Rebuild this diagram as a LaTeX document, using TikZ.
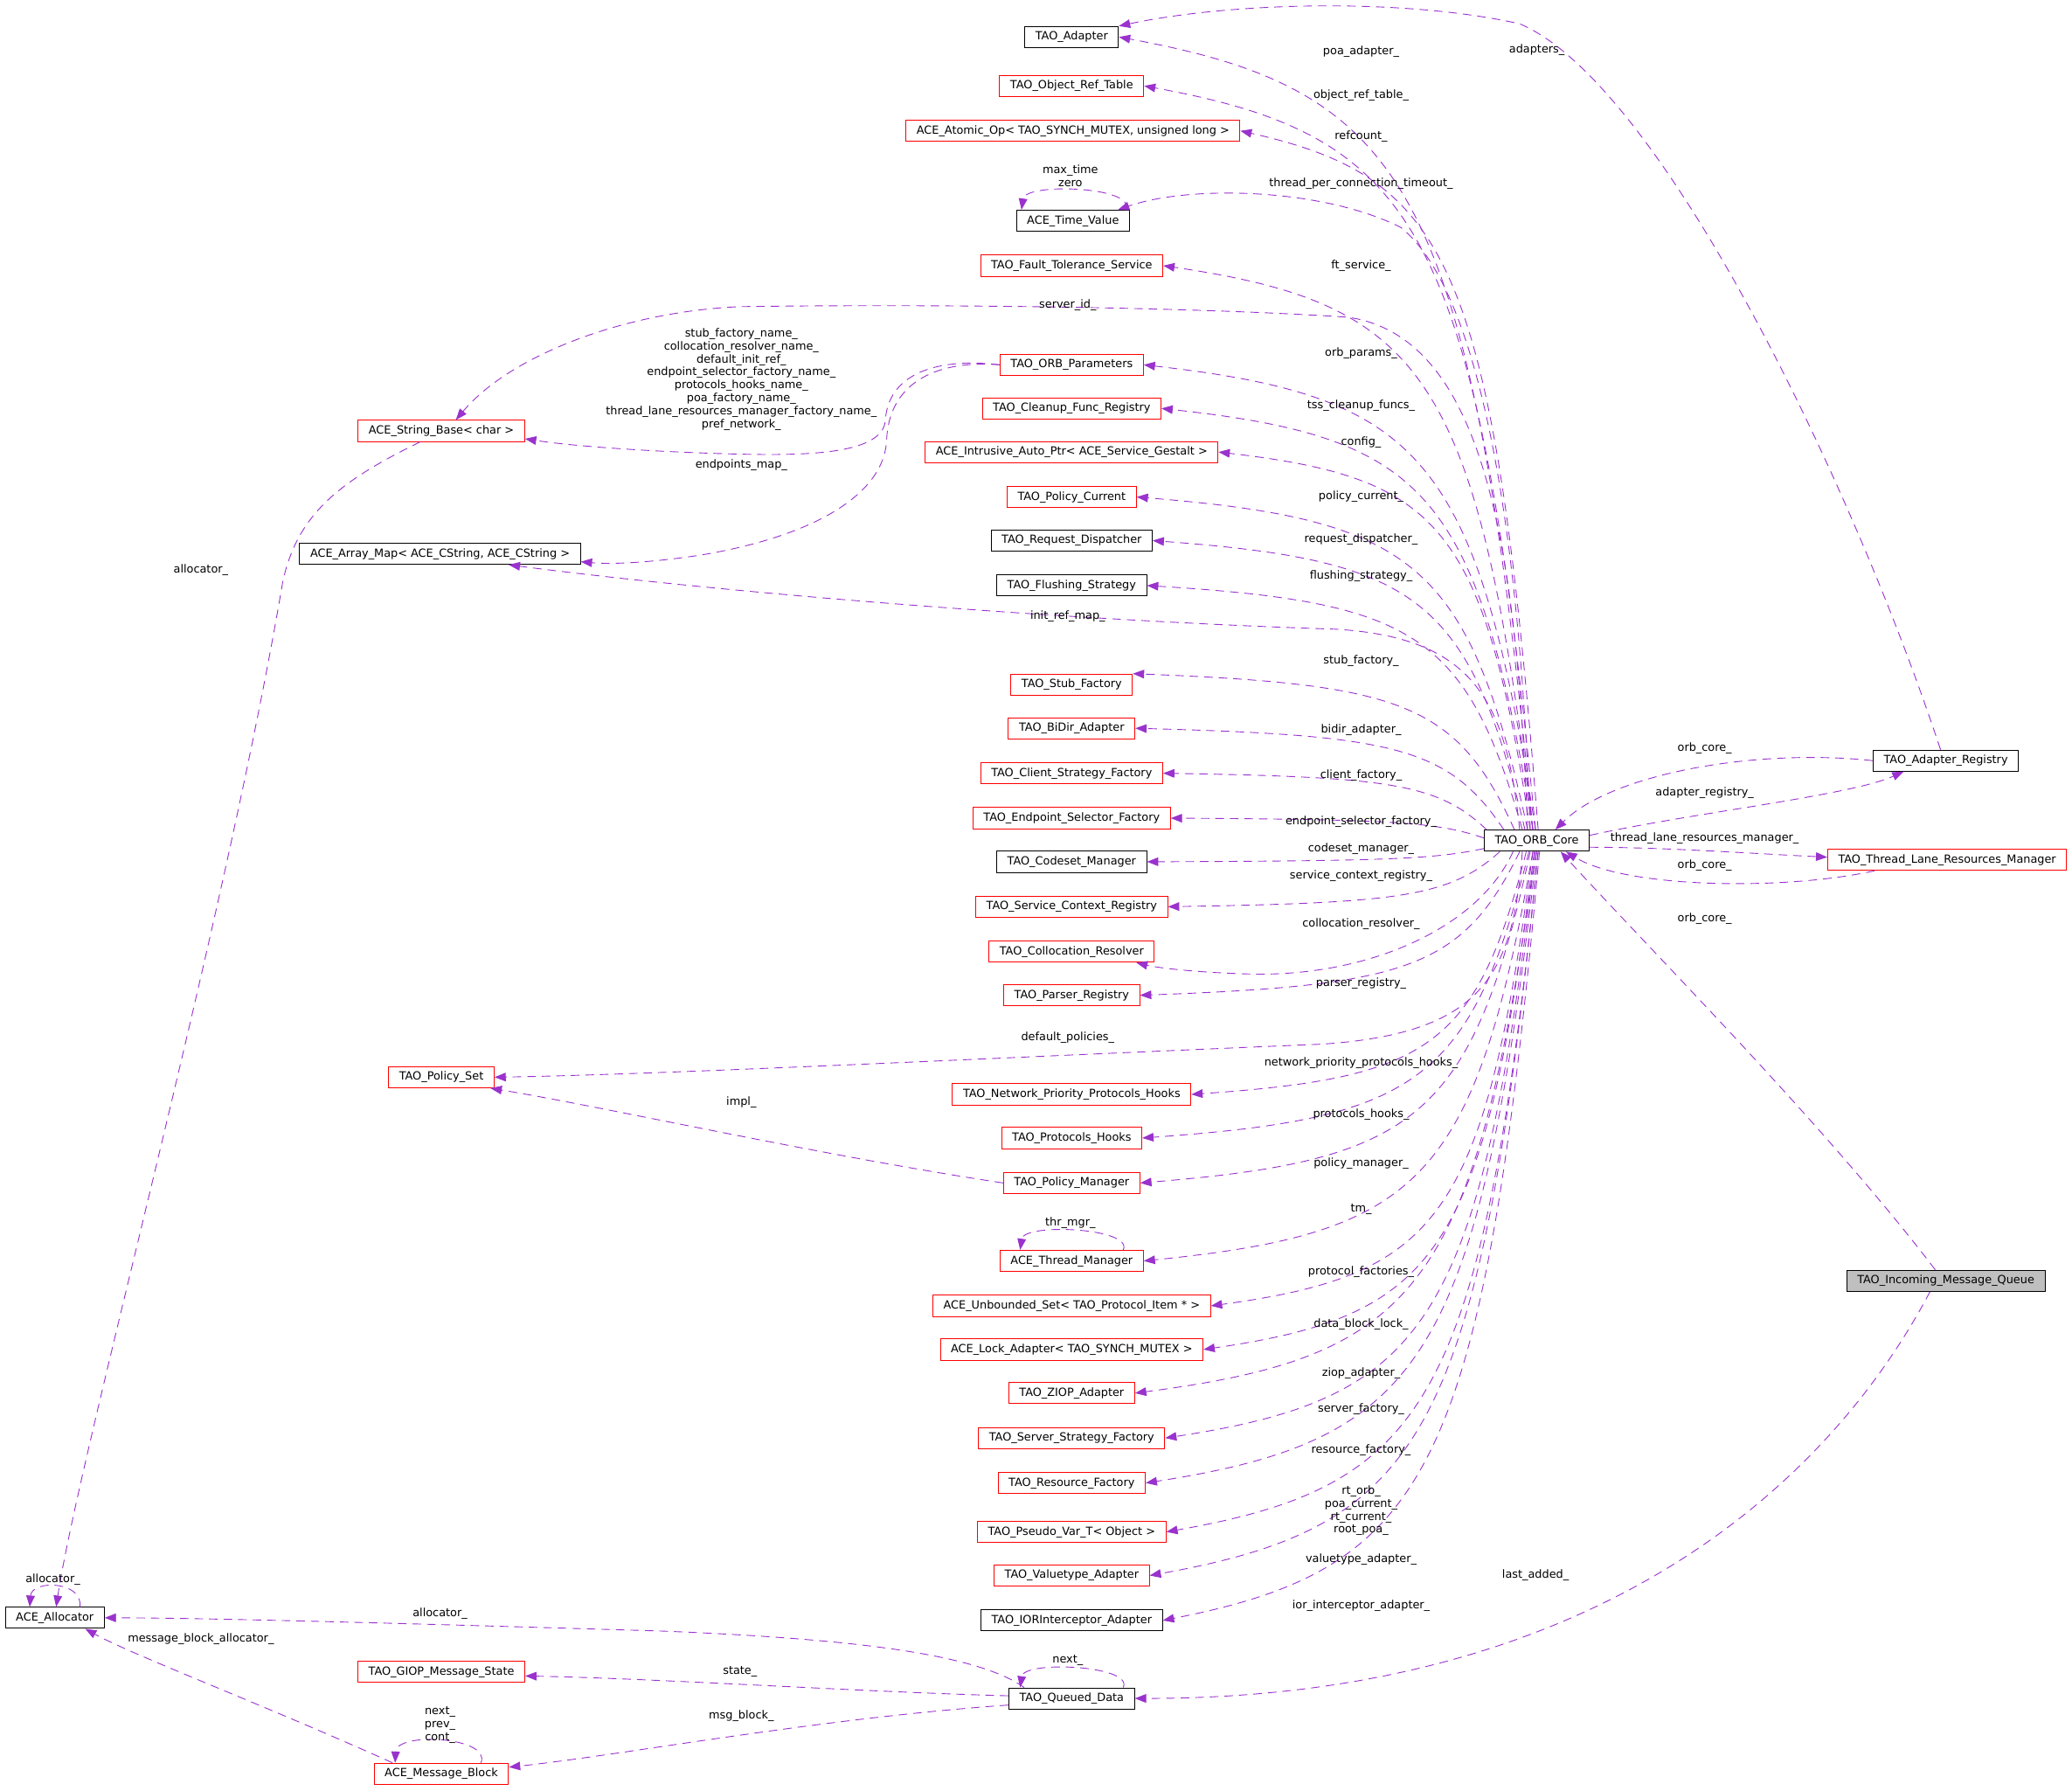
\documentclass[tikz,border=0pt]{standalone}
\usepackage{fontspec}
\setmainfont{DejaVu Sans}
\usetikzlibrary{arrows.meta,calc}
\definecolor{edgec}{HTML}{9A32CD}
\definecolor{grayfill}{HTML}{BFBFBF}
\newcommand{\coreEdge}[2]{\draw[dep] let \p1=(#1), \p2=(#2), \p3=({(\x1)-0.17*((\x1)-(\x2))},{(\y2)-0.08*((\y2)-(\y1))}) in (\p1) .. controls ({(\x1)+0.88*((\x3)-(\x1))},{(\y1)+0.88*((\y3)-(\y1))}) and ({(\x2)+0.85*((\x3)-(\x2))},{(\y2)+0.85*((\y3)-(\y2))}) .. (\p2);}
\tikzset{
  every node/.style={font=\fontsize{8.5}{9.8}\selectfont},
  cls/.style={draw=black, line width=0.65pt, inner xsep=8pt, inner ysep=0pt, minimum height=16pt, text height=6.4pt, text depth=1.8pt},
  rcls/.style={cls, draw=red},
  gcls/.style={cls, fill=grayfill},
  lbl/.style={inner sep=0pt, align=center},
  dep/.style={draw=edgec, line width=0.6pt, dash pattern=on 6.5pt off 4.5pt, -{Triangle[length=8.5pt,width=6.5pt,fill=edgec]}}
}
\begin{document}
\begin{tikzpicture}[x=1pt,y=1pt]
\useasboundingbox (0,0) rectangle (1568,-1355);
% ---------- nodes: member column ----------
\node[cls]  (adapter)   at (811,-28)  {TAO\_Adapter};
\node[rcls] (objref)    at (811,-65)  {TAO\_Object\_Ref\_Table};
\node[rcls] (atomic)    at (812,-99)  {ACE\_Atomic\_Op< TAO\_SYNCH\_MUTEX, unsigned long >};
\node[cls]  (timevalue) at (812,-167) {ACE\_Time\_Value};
\node[rcls] (fts)       at (811,-201) {TAO\_Fault\_Tolerance\_Service};
\node[rcls] (orbparams) at (811,-276) {TAO\_ORB\_Parameters};
\node[rcls] (cleanup)   at (811,-309) {TAO\_Cleanup\_Func\_Registry};
\node[rcls] (intrusive) at (811,-342) {ACE\_Intrusive\_Auto\_Ptr< ACE\_Service\_Gestalt >};
\node[rcls] (polcur)    at (811,-376) {TAO\_Policy\_Current};
\node[cls]  (reqdisp)   at (811,-409) {TAO\_Request\_Dispatcher};
\node[cls]  (flush)     at (811,-443) {TAO\_Flushing\_Strategy};
\node[rcls] (stub)      at (811,-518) {TAO\_Stub\_Factory};
\node[rcls] (bidir)     at (811,-551) {TAO\_BiDir\_Adapter};
\node[rcls] (clientsf)  at (811,-585) {TAO\_Client\_Strategy\_Factory};
\node[rcls] (endpoint)  at (811,-619) {TAO\_Endpoint\_Selector\_Factory};
\node[cls]  (codeset)   at (811,-652) {TAO\_Codeset\_Manager};
\node[rcls] (svcctx)    at (811,-686) {TAO\_Service\_Context\_Registry};
\node[rcls] (colloc)    at (811,-720) {TAO\_Collocation\_Resolver};
\node[rcls] (parser)    at (811,-753) {TAO\_Parser\_Registry};
\node[rcls] (netprio)   at (811,-828) {TAO\_Network\_Priority\_Protocols\_Hooks};
\node[rcls] (prothooks) at (811,-861) {TAO\_Protocols\_Hooks};
\node[rcls] (polmgr)    at (811,-895) {TAO\_Policy\_Manager};
\node[rcls] (thrmgr)    at (811,-954) {ACE\_Thread\_Manager};
\node[rcls] (unbounded) at (811,-988) {ACE\_Unbounded\_Set< TAO\_Protocol\_Item * >};
\node[rcls] (lockad)    at (811,-1021) {ACE\_Lock\_Adapter< TAO\_SYNCH\_MUTEX >};
\node[rcls] (ziop)      at (811,-1054) {TAO\_ZIOP\_Adapter};
\node[rcls] (serversf)  at (811,-1088) {TAO\_Server\_Strategy\_Factory};
\node[rcls] (resfact)   at (811,-1122) {TAO\_Resource\_Factory};
\node[rcls] (pseudo)    at (811,-1159) {TAO\_Pseudo\_Var\_T< Object >};
\node[rcls] (valuetype) at (811,-1192) {TAO\_Valuetype\_Adapter};
\node[cls]  (iorint)    at (811,-1226) {TAO\_IORInterceptor\_Adapter};
\node[cls]  (queued)    at (811,-1285) {TAO\_Queued\_Data};
% ---------- left ----------
\node[rcls] (stringbase) at (334,-326)  {ACE\_String\_Base< char >};
\node[cls]  (arraymap)   at (333,-419)  {ACE\_Array\_Map< ACE\_CString, ACE\_CString >};
\node[rcls] (policyset)  at (334,-815)  {TAO\_Policy\_Set};
\node[cls]  (allocator)  at (41.5,-1224) {ACE\_Allocator};
\node[rcls] (giop)       at (334,-1265) {TAO\_GIOP\_Message\_State};
\node[rcls] (msgblock)   at (334,-1342) {ACE\_Message\_Block};
% ---------- right ----------
\node[cls]  (core)     at (1163,-636)    {TAO\_ORB\_Core};
\node[cls]  (registry) at (1472.5,-575.5) {TAO\_Adapter\_Registry};
\node[rcls] (tlrm)     at (1473.5,-650.5) {TAO\_Thread\_Lane\_Resources\_Manager};
\node[gcls] (imq)      at (1472.5,-969)  {TAO\_Incoming\_Message\_Queue};

% ---------- ORB_Core edges ----------
\coreEdge{[xshift=-3pt]core.north}{adapter.east}
\coreEdge{[xshift=-1pt]core.north}{objref.east}
\coreEdge{[xshift=1pt]core.north}{atomic.east}
\draw[dep] ([xshift=-5pt]core.north) .. controls (1150,-400) and (1120,-220) .. (1060,-172) .. controls (1000,-142) and (900,-140) .. ([xshift=-9pt]timevalue.north east);
\coreEdge{[xshift=-3pt]core.north}{fts.east}
\draw[dep] ([xshift=-7pt]core.north) .. controls (1148,-420) and (1125,-255) .. (1020,-240) .. controls (900,-232) and (700,-230) .. (560,-232) .. controls (470,-236) and (385,-270) .. ([xshift=11pt]stringbase.north);
\coreEdge{[xshift=-1pt]core.north}{orbparams.east}
\coreEdge{[xshift=-3pt]core.north}{cleanup.east}
\coreEdge{[xshift=-5pt]core.north}{intrusive.east}
\coreEdge{[xshift=-7pt]core.north}{polcur.east}
\coreEdge{[xshift=-9pt]core.north}{reqdisp.east}
\coreEdge{[xshift=-11pt]core.north}{flush.east}
\draw[dep] ([xshift=-13pt]core.north) .. controls (1140,-530) and (1115,-482) .. (1010,-476) .. controls (820,-470) and (560,-450) .. ([xshift=52pt]arraymap.south);
\coreEdge{[xshift=-17pt]core.north}{stub.north east}
\coreEdge{[xshift=-25pt]core.north}{bidir.east}
\coreEdge{[xshift=2pt]core.north west}{clientsf.east}
\coreEdge{[yshift=2pt]core.west}{endpoint.east}
\coreEdge{[yshift=-6pt]core.west}{codeset.east}
\coreEdge{[xshift=-28pt]core.south}{svcctx.east}
\draw[dep] ([xshift=-18pt]core.south) .. controls (1120,-700) and (1040,-738) .. (950,-737) .. controls (905,-736) and (875,-732) .. ([xshift=-14pt]colloc.south east);
\coreEdge{[xshift=-13pt]core.south}{parser.east}
\draw[dep] ([xshift=-11pt]core.south) .. controls (1145,-740) and (1120,-782) .. (1000,-790) .. controls (760,-800) and (500,-813) .. (policyset.east);
\coreEdge{[xshift=-8pt]core.south}{netprio.east}
\coreEdge{[xshift=-6pt]core.south}{prothooks.east}
\coreEdge{[xshift=-5pt]core.south}{polmgr.east}
\coreEdge{[xshift=-3pt]core.south}{thrmgr.east}
\coreEdge{[xshift=-3pt]core.south}{unbounded.east}
\coreEdge{[xshift=-2pt]core.south}{lockad.east}
\coreEdge{[xshift=-1pt]core.south}{ziop.east}
\coreEdge{[xshift=-1pt]core.south}{serversf.east}
\coreEdge{core.south}{resfact.east}
\coreEdge{[xshift=1pt]core.south}{pseudo.east}
\coreEdge{[xshift=1pt]core.south}{valuetype.east}
\coreEdge{[xshift=2pt]core.south}{iorint.east}

% ---------- other edges ----------
\draw[dep] (orbparams.west) .. controls (705,-270) and (672,-285) .. (670,-318) .. controls (668,-346) and (600,-345) .. (540,-343) .. controls (480,-341) and (430,-337) .. ([yshift=-6pt]stringbase.east);
\draw[dep] (orbparams.west) .. controls (705,-272) and (673,-292) .. (671,-332) .. controls (670,-372) and (620,-405) .. (530,-420) .. controls (490,-426) and (462,-427) .. ([yshift=-6pt]arraymap.east);
\draw[dep] (polmgr.west) .. controls (620,-874) and (460,-838) .. ([xshift=-3pt]policyset.south east);
\draw[dep] ([xshift=-16pt]stringbase.south) .. controls (255,-365) and (225,-390) .. (214,-440) .. controls (170,-700) and (60,-1100) .. ([xshift=1pt]allocator.north);
\draw[dep] ([xshift=19pt]allocator.north) .. controls (63,-1196) and (24,-1195) .. ([xshift=-19pt]allocator.north);
\draw[dep] ([xshift=-36pt]queued.north) .. controls (740,-1252) and (650,-1240) .. (500,-1234) .. controls (300,-1228) and (150,-1224) .. (allocator.east);
\draw[dep] ([yshift=2pt]queued.west) .. controls (650,-1280) and (500,-1270) .. ([yshift=-3pt]giop.east);
\draw[dep] ([yshift=-5pt]queued.west) .. controls (620,-1300) and (470,-1328) .. ([yshift=5pt]msgblock.east);
\draw[dep] ([xshift=-37pt]msgblock.north) .. controls (200,-1290) and (100,-1252) .. ([xshift=23pt]allocator.south);
\draw[dep] ([xshift=30pt]msgblock.north) .. controls (372,-1314) and (300,-1310) .. ([xshift=-35pt]msgblock.north);
\draw[dep] ([xshift=39pt]queued.north) .. controls (858,-1260) and (775,-1256) .. ([xshift=-39pt]queued.north);
\draw[dep] ([xshift=39pt]thrmgr.north) .. controls (858,-929) and (775,-925) .. ([xshift=-39pt]thrmgr.north);
\draw[dep] ([xshift=40pt]timevalue.north) .. controls (860,-141) and (776,-138) .. ([xshift=-39pt]timevalue.north);
\draw[dep] ([xshift=-4pt]registry.north) .. controls (1400,-360) and (1255,-62) .. (1150,-18) .. controls (1060,2) and (930,-2) .. (adapter.north east);
\draw[dep] (registry.west) .. controls (1330,-566) and (1220,-585) .. ([xshift=14pt]core.north);
\draw[dep] ([yshift=4pt]core.east) .. controls (1280,-615) and (1400,-602) .. ([xshift=-32pt]registry.south);
\draw[dep] ([yshift=-5pt]core.east) .. controls (1260,-641) and (1330,-646) .. ([yshift=2pt]tlrm.west);
\draw[dep] ([xshift=-55pt]tlrm.south) .. controls (1350,-674) and (1230,-672) .. ([xshift=22pt]core.south);
\draw[dep] ([xshift=-8pt]imq.north) .. controls (1380,-850) and (1250,-720) .. ([xshift=18pt]core.south);
\draw[dep] ([xshift=-12pt]imq.south) .. controls (1380,-1130) and (1200,-1285) .. (queued.east);

% ---------- labels ----------
\node[lbl] (l1)  at (1030,-39)  {poa\_adapter\_};
\node[lbl] (l2)  at (1030,-72)  {object\_ref\_table\_};
\node[lbl] (l3)  at (1030,-103) {refcount\_};
\node[lbl] (l4)  at (1030,-139) {thread\_per\_connection\_timeout\_};
\node[lbl] (l5)  at (1030,-201) {ft\_service\_};
\node[lbl] (l6)  at (808,-231)  {server\_id\_};
\node[lbl] (l7)  at (1030,-267) {orb\_params\_};
\node[lbl] (l8)  at (1030,-307) {tss\_cleanup\_funcs\_};
\node[lbl] (l9)  at (1030,-335) {config\_};
\node[lbl] (l10) at (1030,-376) {policy\_current\_};
\node[lbl] (l11) at (1030,-408) {request\_dispatcher\_};
\node[lbl] (l12) at (1030,-436) {flushing\_strategy\_};
\node[lbl] (l13) at (808,-466)  {init\_ref\_map\_};
\node[lbl] (l14) at (1030,-500) {stub\_factory\_};
\node[lbl] (l15) at (1030,-552) {bidir\_adapter\_};
\node[lbl] (l16) at (1030,-587) {client\_factory\_};
\node[lbl] (l17) at (1030,-622) {endpoint\_selector\_factory\_};
\node[lbl] (l18) at (1030,-642) {codeset\_manager\_};
\node[lbl] (l19) at (1030,-663) {service\_context\_registry\_};
\node[lbl] (l20) at (1030,-699) {collocation\_resolver\_};
\node[lbl] (l21) at (1030,-744) {parser\_registry\_};
\node[lbl] (l22) at (808,-785)  {default\_policies\_};
\node[lbl] (l23) at (1030,-804) {network\_priority\_protocols\_hooks\_};
\node[lbl] (l24) at (1030,-843) {protocols\_hooks\_};
\node[lbl] (l25) at (1030,-880) {policy\_manager\_};
\node[lbl] (l26) at (1030,-915) {tm\_};
\node[lbl] (l27) at (1030,-962) {protocol\_factories\_};
\node[lbl] (l28) at (1030,-1002) {data\_block\_lock\_};
\node[lbl] (l29) at (1030,-1039) {ziop\_adapter\_};
\node[lbl] (l30) at (1030,-1066) {server\_factory\_};
\node[lbl] (l31) at (1030,-1097) {resource\_factory\_};
\node[lbl] (l32) at (1030,-1143) {rt\_orb\_\\poa\_current\_\\rt\_current\_\\root\_poa\_};
\node[lbl] (l33) at (1030,-1180) {valuetype\_adapter\_};
\node[lbl] (l34) at (1030,-1215) {ior\_interceptor\_adapter\_};
\node[lbl] (l35) at (561,-287) {stub\_factory\_name\_\\collocation\_resolver\_name\_\\default\_init\_ref\_\\endpoint\_selector\_factory\_name\_\\protocols\_hooks\_name\_\\poa\_factory\_name\_\\thread\_lane\_resources\_manager\_factory\_name\_\\pref\_network\_};
\node[lbl] (l36) at (561,-352) {endpoints\_map\_};
\node[lbl] (l37) at (561,-834) {impl\_};
\node[lbl] (l38) at (152,-431) {allocator\_};
\node[lbl] (l39) at (40,-1195) {allocator\_};
\node[lbl] (l40) at (333,-1221) {allocator\_};
\node[lbl] (l41) at (152,-1240) {message\_block\_allocator\_};
\node[lbl] (l42) at (560,-1265) {state\_};
\node[lbl] (l43) at (561,-1298) {msg\_block\_};
\node[lbl] (l44) at (808,-1256) {next\_};
\node[lbl] (l45) at (333,-1305) {next\_\\prev\_\\cont\_};
\node[lbl] (l46) at (810,-925) {thr\_mgr\_};
\node[lbl] (l47) at (810,-133) {max\_time\\zero};
\node[lbl] (l48) at (1163,-38) {adapters\_};
\node[lbl] (l49) at (1290,-566) {orb\_core\_};
\node[lbl] (l50) at (1290,-600) {adapter\_registry\_};
\node[lbl] (l51) at (1290,-634) {thread\_lane\_resources\_manager\_};
\node[lbl] (l52) at (1290,-655) {orb\_core\_};
\node[lbl] (l53) at (1290,-695) {orb\_core\_};
\node[lbl] (l54) at (1162,-1192) {last\_added\_};
\end{tikzpicture}
\end{document}
